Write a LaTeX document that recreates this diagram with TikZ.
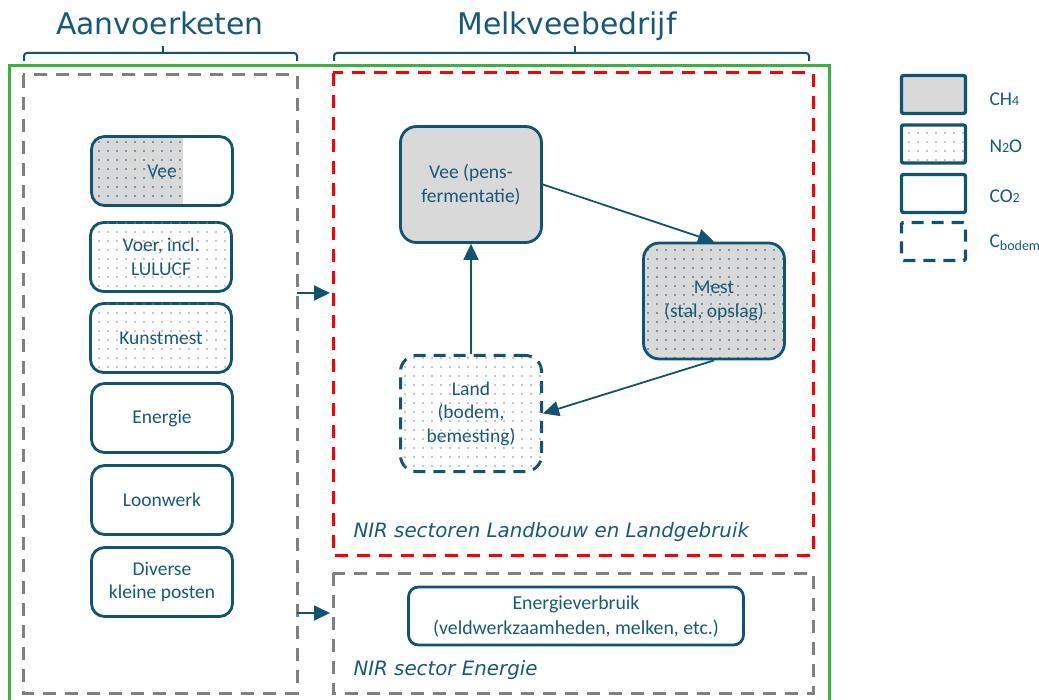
\documentclass[tikz,border=0pt]{standalone}
\usepackage{fontspec}
\setmainfont{DejaVu Sans}
\newfontfamily\carlito{Carlito}
\usetikzlibrary{arrows.meta,patterns.meta,calc}
\definecolor{cline}{RGB}{16,84,114}
\definecolor{ctext}{RGB}{24,88,120}
\definecolor{cgray}{RGB}{217,217,217}
\definecolor{dotgray}{RGB}{140,140,140}
\definecolor{cgreen}{RGB}{60,178,60}
\definecolor{cred}{RGB}{255,0,0}
\definecolor{cdash}{RGB}{128,128,128}
\tikzset{
  box/.style={draw=cline, line width=2.8pt, rounded corners=13pt, minimum width=141pt, minimum height=69pt,
    inner sep=2pt, align=center, text=ctext, font=\carlito\fontsize{19.5}{23.5}\selectfont},
  rbox/.style={box, minimum height=116pt, rounded corners=16pt},
  dotw/.style={postaction={pattern={Dots[distance=9pt,radius=0.8pt]}, pattern color=dotgray}},
  dotb/.style={postaction={pattern={Dots[distance=9pt,radius=0.8pt]}, pattern color=cline}},
  dashbox/.style={dash pattern=on 12pt off 8pt},
  grp/.style={line width=3pt, dash pattern=on 13pt off 9pt},
  conn/.style={draw=cline, line width=1.8pt, -{Triangle[length=16pt,width=15pt]}},
  lg/.style={draw=cline, line width=3.3pt, rounded corners=2pt, minimum width=64pt, minimum height=38pt, inner sep=0pt},
  lgt/.style={anchor=west, text=ctext, font=\carlito\fontsize{19.5}{23}\selectfont},
  title/.style={anchor=base, text=ctext, font=\fontsize{29.8}{32}\selectfont},
  nir/.style={anchor=base west, text=ctext, font=\itshape\fontsize{19.8}{22}\selectfont},
  brace/.style={draw=cline, line width=2pt, rounded corners=3pt}
}
\begin{document}
\begin{tikzpicture}[x=1pt,y=-1pt]
\useasboundingbox (0,0) rectangle (1039,700);

% titles and braces
\node[title] (t1) at (160,35) {Aanvoerketen};
\node[title] (t2) at (567,35) {Melkveebedrijf};
\draw[brace] (24,61) -- (24,53) -- (297,53) -- (297,61);
\draw[brace] (163,53) -- (163,46);
\draw[brace] (334,61) -- (334,53) -- (809,53) -- (809,61);
\draw[brace] (575,53) -- (575,46);

% outer green frame
\draw[cgreen, line width=3pt] (9,706) -- (9,66) -- (829,66) -- (829,706);

% group boxes
\draw[grp, cdash] (23,75) rectangle (297,693);
\draw[grp, cred] (333,73) rectangle (813,555);
\draw[grp, cdash] (333,573) rectangle (813,693);

% left column
\node[box, path picture={
    \fill[cgray, sharp corners] (path picture bounding box.north west) rectangle ([xshift=-50pt]path picture bounding box.south east);
    \fill[sharp corners, pattern={Dots[distance=9pt,radius=0.8pt]}, pattern color=cline] (path picture bounding box.north west) rectangle ([xshift=-50pt]path picture bounding box.south east);
  }] (lvee) at (162,171) {Vee};
\node[box, dotw] (lvoer) at (161,257) {Voer, incl.\\LULUCF};
\node[box, dotw] (lkunst) at (161,338) {Kunstmest};
\node[box] (lenergie) at (162,418) {Energie};
\node[box] (lloon) at (162,500) {Loonwerk};
\node[box] (ldiv) at (162,582) {Diverse\\kleine posten};

% right part
\node[rbox, fill=cgray] (rvee) at (471,184.5) {Vee (pens-\\fermentatie)};
\node[rbox, fill=cgray, dotb] (mest) at (714,301) {Mest\\(stal, opslag)};
\node[rbox, dotw, dashbox, line width=3pt] (land) at (471,413.5) {Land\\(bodem,\\bemesting)};
\node[box, minimum width=335pt, minimum height=58pt, rounded corners=10pt, font=\carlito\fontsize{19.8}{25}\selectfont] (energie) at (576,616) {Energieverbruik\\(veldwerkzaamheden, melken, etc.)};

\draw[conn] (rvee.east) -- (mest.north);
\draw[conn] (mest.south) -- (land.east);
\draw[conn] (land.north) -- (rvee.south);

% arrows into farm
\coordinate (a1) at (297,293);
\coordinate (b1) at (330,293);
\coordinate (a2) at (297,613);
\coordinate (b2) at (330,613);
\draw[conn] (a1) -- (b1);
\draw[conn] (a2) -- (b2);

% sector labels
\node[nir] (nir1) at (350,537) {NIR sectoren Landbouw en Landgebruik};
\node[nir] (nir2) at (350,675) {NIR sector Energie};

% legend
\node[lg, fill=cgray] (lg1) at (933.5,94.5) {};
\node[lg, dotw] (lg2) at (933.5,144) {};
\node[lg] (lg3) at (933.5,193.5) {};
\node[lg, dash pattern=on 12pt off 8pt] (lg4) at (933.5,241.5) {};
\node[lgt] (lt1) at (986,99) {CH{\fontsize{14}{14}\selectfont 4}};
\node[lgt] (lt2) at (986,146) {N{\fontsize{14}{14}\selectfont 2}O};
\node[lgt] (lt3) at (986,196) {CO{\fontsize{14}{14}\selectfont 2}};
\node[lgt] (lt4) at (986,243) {C\raisebox{-0.35ex}{\fontsize{14}{14}\selectfont bodem}};
\end{tikzpicture}
\end{document}
